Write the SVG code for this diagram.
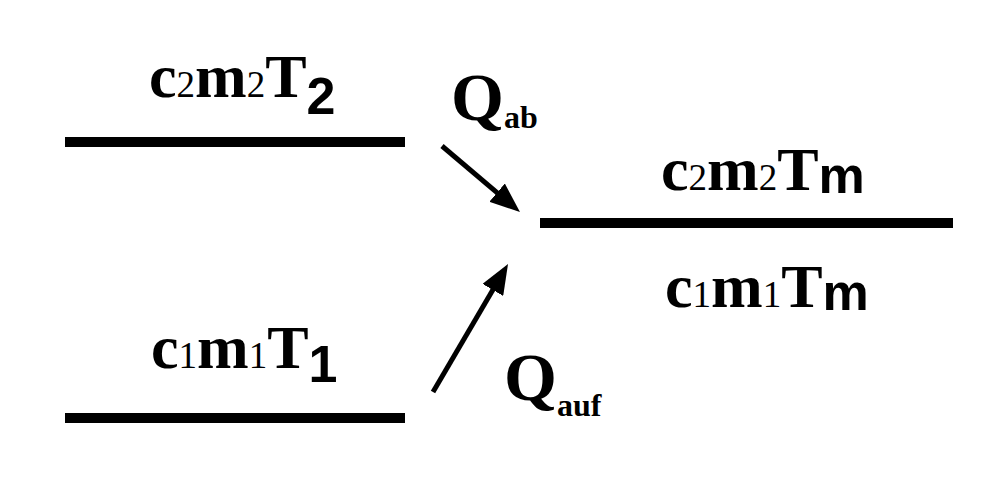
<svg xmlns="http://www.w3.org/2000/svg" width="1000" height="500" viewBox="0 0 1000 500">
<defs>
<style>
.main{font-family:"Liberation Serif","Times New Roman",serif;font-weight:bold;font-size:62px;fill:#000}
.sub{font-family:"Liberation Serif","Times New Roman",serif;font-weight:normal;font-size:37px}
.tsub{font-family:"Liberation Sans",Arial,sans-serif;font-weight:bold;font-size:52px}
.q{font-family:"Liberation Serif","Times New Roman",serif;font-weight:bold;font-size:68px;fill:#000}
.qs{font-size:32px}
.bar{stroke:#000;stroke-width:10;fill:none}
.arr{stroke:#000;stroke-width:5;fill:none;marker-end:url(#ah)}
</style>
<marker id="ah" markerUnits="userSpaceOnUse" markerWidth="30" markerHeight="24" refX="10" refY="12" orient="auto">
<path d="M0,0 L30,12 L0,24 Z" fill="#000"/>
</marker>
</defs>
<rect width="1000" height="500" fill="#fff"/>
<g id="state-hot">
<line class="bar" x1="65" y1="142" x2="405" y2="142"/>
<text class="main" x="149" y="97">c<tspan class="sub">2</tspan>m<tspan class="sub">2</tspan>T<tspan class="tsub" dy="17">2</tspan></text>
</g>
<g id="state-cold">
<line class="bar" x1="65" y1="418" x2="405" y2="418"/>
<text class="main" x="151" y="368">c<tspan class="sub">1</tspan>m<tspan class="sub">1</tspan>T<tspan class="tsub" dy="14">1</tspan></text>
</g>
<g id="state-mixed">
<line class="bar" x1="540" y1="223" x2="953" y2="223"/>
<text class="main" x="661" y="190">c<tspan class="sub">2</tspan>m<tspan class="sub">2</tspan>T<tspan class="tsub" dy="3">m</tspan></text>
<text class="main" x="665" y="307">c<tspan class="sub">1</tspan>m<tspan class="sub">1</tspan>T<tspan class="tsub" dy="3">m</tspan></text>
</g>
<g id="connectors">
<line class="arr" x1="442" y1="146" x2="504.7" y2="199.1"/>
<line class="arr" x1="433" y1="392" x2="497.9" y2="281.3"/>
<text class="q" x="451" y="120">Q<tspan class="qs" dy="8">ab</tspan></text>
<text class="q" x="504" y="400">Q<tspan class="qs" dy="16">auf</tspan></text>
</g>
</svg>
